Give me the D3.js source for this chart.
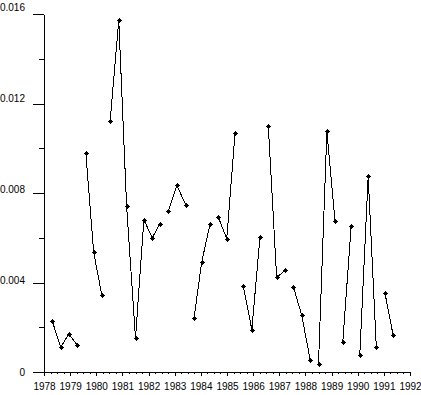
<!DOCTYPE html>
<html>
<head>
<meta charset="utf-8">
<script src="https://cdn.jsdelivr.net/npm/d3@7"></script>
<style>
    body { margin: 0; background: #fff; }
    text { font-family: "Liberation Sans", Arial, sans-serif; font-size: 10px; fill: #000; }
</style>
</head>
<body>
<div id="chart"></div>
<script>
var years = [1978.32, 1978.64, 1978.95, 1979.28, 1979.60, 1979.90, 1980.21, 1980.53, 1980.86, 1981.16,
    1981.50, 1981.82, 1982.14, 1982.43, 1982.75, 1983.08, 1983.42, 1983.74, 1984.03, 1984.35,
    1984.67, 1984.99, 1985.31, 1985.62, 1985.95, 1986.26, 1986.58, 1986.90, 1987.22, 1987.54,
    1987.86, 1988.18, 1988.50, 1988.82, 1989.13, 1989.43, 1989.75, 1990.08, 1990.40, 1990.71,
    1991.04, 1991.35];
var values = [0.00226, 0.00110, 0.00170, 0.00119, 0.00979, 0.00535, 0.00345, 0.01123, 0.01571, 0.00740,
    0.00152, 0.00681, 0.00599, 0.00663, 0.00718, 0.00834, 0.00748, 0.00241, 0.00490, 0.00660,
    0.00691, 0.00596, 0.01070, 0.00386, 0.00189, 0.00602, 0.01098, 0.00423, 0.00454, 0.00380,
    0.00253, 0.00055, 0.00037, 0.01075, 0.00675, 0.00135, 0.00653, 0.00077, 0.00874, 0.00113,
    0.00354, 0.00167];
// which connected piece of line each point belongs to
var segment = [0, 0, 0, 0, 1, 1, 1, 2, 2, 2,
    2, 2, 2, 2, 3, 3, 3, 4, 4, 4,
    5, 5, 5, 6, 6, 6, 7, 7, 7, 8,
    8, 8, 9, 9, 9, 10, 10, 11, 11, 11,
    12, 12];

var yLabelTicks = [0, 0.004, 0.008, 0.012, 0.016];
var yMinorTicks = [0.002, 0.006, 0.010, 0.014];
var xYearTicks = [1978, 1979, 1980, 1981, 1982, 1983, 1984, 1985, 1986, 1987, 1988, 1989, 1990, 1991, 1992];

var width = 421,
    height = 395;

var svg = d3.select("#chart")
    .append("svg")
    .attr("width", width)
    .attr("height", height);

svg.append("rect")
    .attr("width", width)
    .attr("height", height)
    .attr("fill", "#fff");

var x = d3.scaleLinear()
    .domain([1978, 1992])
    .range([44, 410]);

var y = d3.scaleLinear()
    .domain([0, 0.016])
    .range([372, 14]);

// the old plot puts its value labels on a slightly taller scale than the ticks
var yText = d3.scaleLinear()
    .domain([0, 0.016])
    .range([372, 7]);

// quarter ticks for the x axis
var xMinor = [];
xYearTicks.forEach(function (yr, i) {
    if (i < xYearTicks.length - 1) {
        xMinor.push(yr + 0.25, yr + 0.5, yr + 0.75);
    }
});

// minor ticks first, then the labelled ones on top
svg.append("g")
    .attr("transform", "translate(0," + y(0) + ")")
    .call(d3.axisBottom(x).tickValues(xMinor).tickSize(2).tickSizeOuter(0).tickFormat(""))
    .call(function (g) { g.select(".domain").remove(); });

svg.append("g")
    .attr("class", "xaxis")
    .attr("transform", "translate(0," + y(0) + ")")
    .call(d3.axisBottom(x)
        .tickValues(xYearTicks)
        .tickSize(4)
        .tickSizeOuter(0)
        .tickPadding(7)
        .tickFormat(d3.format("d")));

svg.append("g")
    .attr("transform", "translate(" + x(1978) + ",0)")
    .call(d3.axisLeft(y).tickValues(yMinorTicks).tickSize(5).tickSizeOuter(0).tickFormat(""))
    .call(function (g) { g.select(".domain").remove(); });

svg.append("g")
    .attr("class", "yaxis")
    .attr("transform", "translate(" + x(1978) + ",0)")
    .call(d3.axisLeft(y)
        .tickValues(yLabelTicks)
        .tickSize(11)
        .tickSizeOuter(0)
        .tickFormat(""));

svg.selectAll("g.ylab")
    .data(yLabelTicks)
    .enter()
    .append("text")
    .attr("class", "ylab")
    .attr("x", 25)
    .attr("y", function (d) { return yText(d); })
    .attr("dy", "0.35em")
    .attr("text-anchor", "end")
    .text(function (d) { return d === 0 ? "0" : d3.format(".3f")(d); });

svg.selectAll(".domain, .tick line")
    .attr("stroke", "#000")
    .attr("shape-rendering", "crispEdges");
svg.selectAll(".tick text")
    .attr("font-size", 10)
    .attr("font-family", "Liberation Sans, Arial, sans-serif");

// one polyline for each connected piece
var pieces = d3.groups(d3.range(years.length), function (i) { return segment[i]; });
var line = d3.line()
    .x(function (i) { return x(years[i]); })
    .y(function (i) { return y(values[i]); });

svg.selectAll("path.piece")
    .data(pieces)
    .enter()
    .append("path")
    .attr("class", "piece")
    .attr("d", function (p) { return line(p[1]); })
    .attr("fill", "none")
    .attr("stroke", "#000")
    .attr("stroke-width", 1)
    .attr("shape-rendering", "crispEdges");

// small point markers
var marks = svg.selectAll("g.mark")
    .data(d3.range(years.length))
    .enter()
    .append("g")
    .attr("class", "mark")
    .attr("shape-rendering", "crispEdges")
    .attr("transform", function (i) {
        return "translate(" + Math.round(x(years[i])) + "," + Math.round(y(values[i])) + ")";
    });
marks.append("rect")
    .attr("x", -1).attr("y", -1)
    .attr("width", 3).attr("height", 3)
    .attr("fill", "#000");
marks.append("path")
    .attr("d", "M-2,0.5H3M0.5,-2V3")
    .attr("stroke", "#000")
    .attr("stroke-width", 1);
</script>
</body>
</html>
